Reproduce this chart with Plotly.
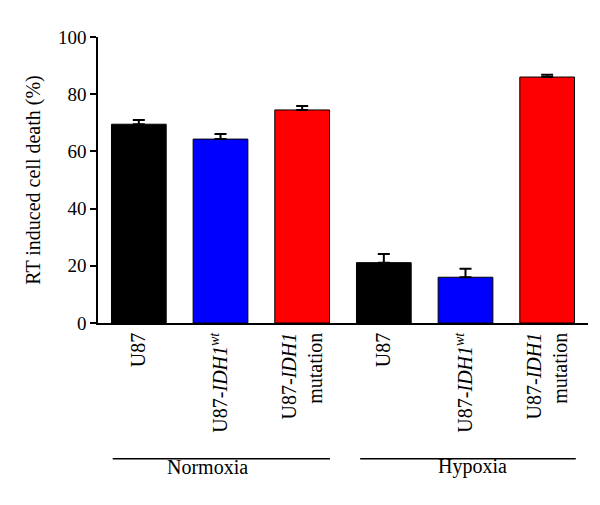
import plotly.graph_objects as go

categories = ["U87", "U87-<i>IDH1</i><sup><i>wt</i></sup>", "U87-<i>IDH1</i><br>mutation",
              "U87", "U87-<i>IDH1</i><sup><i>wt</i></sup>", "U87-<i>IDH1</i><br>mutation"]
values = [69.5, 64.3, 74.5, 21.1, 16.0, 86.0]
errors = [1.5, 1.8, 1.4, 3.0, 3.0, 0.8]
colors = ["#000000", "#0000ff", "#ff0000", "#000000", "#0000ff", "#ff0000"]
groups = ["Normoxia", "Hypoxia"]
y_ticks = [0, 20, 40, 60, 80, 100]

positions = list(range(len(values)))
FONT = "'Liberation Serif', 'Times New Roman', serif"
FS = 20

fig = go.Figure()
fig.add_trace(go.Bar(
    x=positions, y=values, width=0.67,
    marker=dict(color=colors, line=dict(color="black", width=1)),
    error_y=dict(type="data", array=errors, arrayminus=[0] * len(errors),
                 symmetric=False, color="black", thickness=2, width=6),
    showlegend=False,
))

fig.update_layout(
    width=600, height=505,
    margin=dict(l=90, r=20, t=29, b=190),
    paper_bgcolor="white", plot_bgcolor="white",
    font=dict(family=FONT, color="black", size=FS),
    xaxis=dict(range=[-0.5, 5.5], tickvals=positions, ticktext=categories,
               tickangle=-90, showline=True, linecolor="black", linewidth=1.5,
               ticks="", showgrid=False, zeroline=False, automargin=False,
               tickfont=dict(family=FONT, size=FS)),
    yaxis=dict(range=[0, 100], tickvals=y_ticks, showline=True, linecolor="black",
               linewidth=1.5, ticks="outside", ticklen=6, tickwidth=1.5,
               tickcolor="black", showgrid=False, zeroline=False, automargin=False,
               title=dict(text="RT induced cell death (%)", font=dict(family=FONT, size=FS), standoff=12),
               tickfont=dict(family=FONT, size=19)),
)

# group bracket lines and labels
fig.add_shape(type="line", xref="x", yref="paper", x0=-0.32, x1=2.34, y0=-0.475, y1=-0.475,
              line=dict(color="black", width=1.5))
fig.add_shape(type="line", xref="x", yref="paper", x0=2.71, x1=5.35, y0=-0.475, y1=-0.475,
              line=dict(color="black", width=1.5))
fig.add_annotation(x=0.84, y=-0.55, xref="x", yref="paper", text=groups[0], showarrow=False,
                   font=dict(family=FONT, size=FS, color="black"))
fig.add_annotation(x=4.08, y=-0.55, xref="x", yref="paper", text=groups[1], showarrow=False,
                   font=dict(family=FONT, size=FS, color="black"))

fig.write_html("out.html")
